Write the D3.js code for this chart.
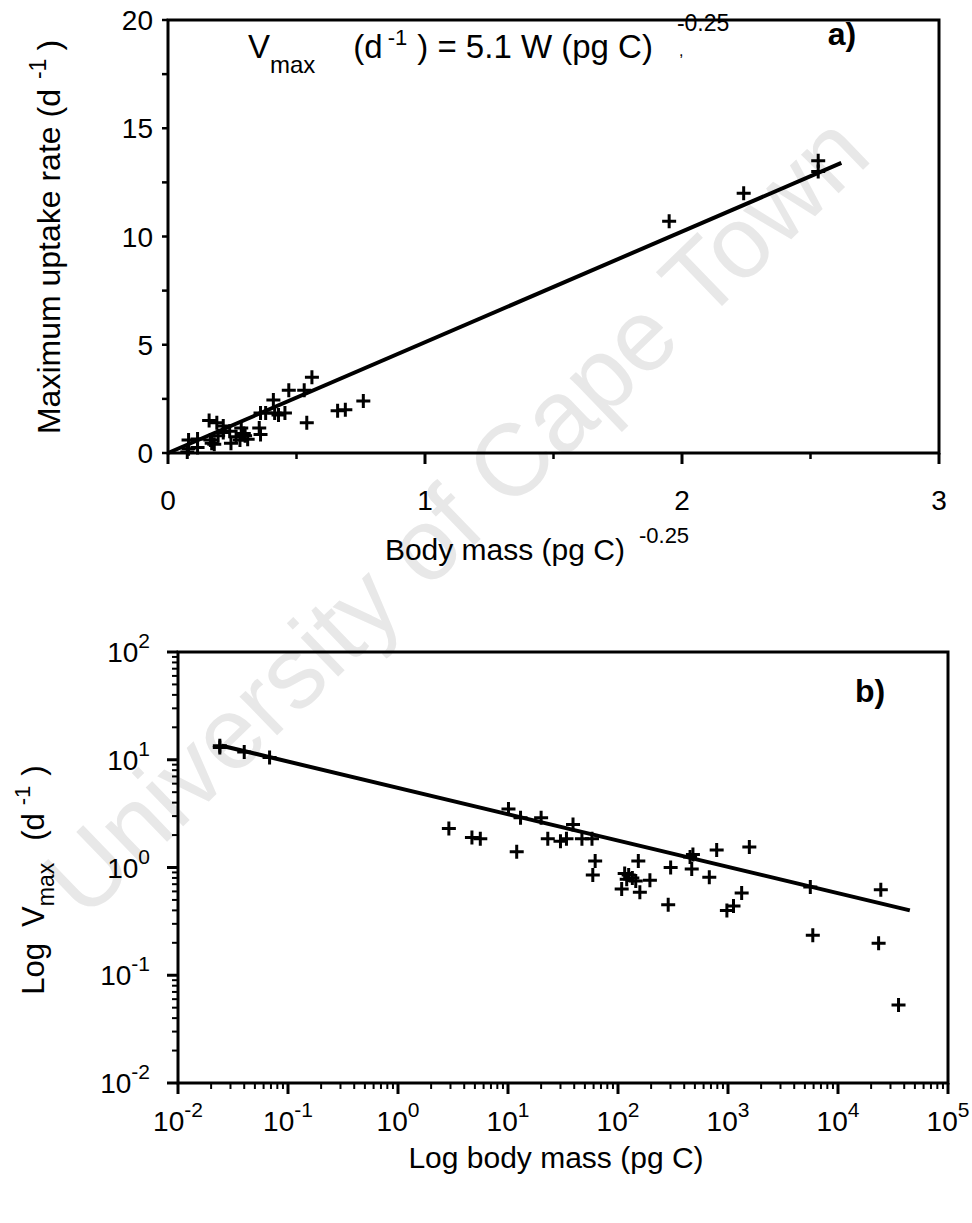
<!DOCTYPE html>
<html><head><meta charset="utf-8">
<script src="https://cdn.jsdelivr.net/npm/d3@7"></script>
<style>
body{margin:0;background:#fff}
text{font-family:"Liberation Sans",Arial,Helvetica,sans-serif;fill:#000}
</style>
</head><body>
<svg id="c" width="972" height="1223"></svg>
<script>
// ---------- Panel a) : Vmax vs W^-0.25 ----------
const aX = [0.56,0.53,0.47,0.76,0.69,0.66,0.54,0.41,0.455,0.43,0.415,0.38,0.36,0.355,0.36,0.285,0.29,0.30,0.295,0.31,0.28,0.265,0.245,0.24,0.215,0.215,0.195,0.19,0.16,0.165,0.17,0.18,0.115,0.115,0.08,0.08,0.075,1.95,2.24,2.53,2.53];
const aY = [3.5,2.9,2.9,2.4,2.0,1.95,1.4,2.45,1.85,1.75,1.85,1.85,1.85,1.15,0.85,1.15,0.85,0.8,0.9,0.63,0.6,0.75,0.45,1.0,1.25,0.95,0.8,1.4,1.5,0.6,0.45,0.4,0.65,0.25,0.6,0.2,0.05,10.7,12.0,13.5,13.0];
const aLineX = [0, 2.62];
const aLineY = [0, 13.4];
const aXTicks = [0,1,2,3];
const aXMinor = [0.5,1.5,2.5];
const aYTicks = [0,5,10,15,20];
const aYMinor = [2.5,7.5,12.5,17.5];

// ---------- Panel b) : log Vmax vs log W ----------
const bX = [0.024,0.024,0.04,0.068,2.9,4.7,5.6,10.1,13,12,20,23,30,34,39,47,58,62,59,153,115,125,135,120,145,108,158,195,286,301,452,480,468,676,789,1563,1331,1122,977,5600,5900,24500,23400,35500];
const bY = [13.5,13.0,11.8,10.5,2.3,1.9,1.85,3.5,2.9,1.4,2.9,1.85,1.75,1.85,2.5,1.85,1.85,1.15,0.85,1.15,0.88,0.85,0.8,0.78,0.75,0.63,0.59,0.76,0.45,1.0,1.25,1.32,0.97,0.81,1.45,1.55,0.58,0.44,0.40,0.66,0.235,0.62,0.198,0.053];
const bLineX = [0.025, 45000];
const bLineY = [13.5, 0.40];
const bXExp = [-2,-1,0,1,2,3,4,5];
const bYExp = [-2,-1,0,1,2];

const svg = d3.select('#c');
const plus = 'M-7,0H7M0,-7V7';

// watermark
svg.append('text')
  .attr('transform','translate(455,515) rotate(-44)')
  .attr('text-anchor','middle').attr('dominant-baseline','central')
  .style('font-size','102px').style('fill','#e8e8e8')
  .text('University of Cape Town');

// ===== Panel a =====
const xA = d3.scaleLinear().domain([0,3]).range([168,939]);
const yA = d3.scaleLinear().domain([0,20]).range([453,20]);
const gA = svg.append('g');

gA.append('rect').attr('x',xA(0)).attr('y',yA(20))
  .attr('width',xA(3)-xA(0)).attr('height',yA(0)-yA(20))
  .attr('fill','none').attr('stroke','#000').attr('stroke-width',3);

gA.selectAll('.xmaj').data(aXTicks).join('line')
  .attr('x1',d=>xA(d)).attr('x2',d=>xA(d)).attr('y1',yA(0)).attr('y2',yA(0)+11)
  .attr('stroke','#000').attr('stroke-width',3);
gA.selectAll('.xmin').data(aXMinor).join('line')
  .attr('x1',d=>xA(d)).attr('x2',d=>xA(d)).attr('y1',yA(0)).attr('y2',yA(0)+6)
  .attr('stroke','#000').attr('stroke-width',2.5);
gA.selectAll('.ymaj').data(aYTicks.concat(aYMinor)).join('line')
  .attr('x1',xA(0)-6).attr('x2',xA(0)).attr('y1',d=>yA(d)).attr('y2',d=>yA(d))
  .attr('stroke','#000').attr('stroke-width',2.5);

gA.selectAll('.xl').data(aXTicks).join('text')
  .attr('x',d=>xA(d)).attr('y',yA(0)+57).attr('text-anchor','middle')
  .style('font-size','28px').text(d=>d);
gA.selectAll('.yl').data(aYTicks).join('text')
  .attr('x',xA(0)-15).attr('y',d=>yA(d)+10).attr('text-anchor','end')
  .style('font-size','28px').text(d=>d);

gA.append('path')
  .attr('d', d3.line().x(d=>xA(d[0])).y(d=>yA(d[1]))(d3.zip(aLineX,aLineY)))
  .attr('stroke','#000').attr('stroke-width',4).attr('fill','none');

gA.selectAll('.pt').data(d3.zip(aX,aY)).join('path')
  .attr('transform',d=>`translate(${xA(d[0])},${yA(d[1])})`)
  .attr('d',plus).attr('stroke','#000').attr('stroke-width',3).attr('fill','none');

// equation
const eq = gA.append('text').attr('x',248).attr('y',58).style('font-size','33px');
eq.append('tspan').text('V');
eq.append('tspan').attr('dy',15).style('font-size','24px').text('max');
eq.append('tspan').attr('dx',38).attr('dy',-15).text('(d');
eq.append('tspan').attr('dx',5).attr('dy',-13).style('font-size','22px').text('-1');
eq.append('tspan').attr('dx',10).attr('dy',13).text(') = 5.1 W (pg C)');
eq.append('tspan').attr('dx',24).attr('dy',-27).style('font-size','23px').text('-0.25');
gA.append('text').attr('x',679).attr('y',56).style('font-size','16px').text(',');

gA.append('text').attr('x',842).attr('y',45).attr('text-anchor','middle')
  .style('font-size','32px').style('font-weight','bold').text('a)');

// axis titles a
const ta = gA.append('text').attr('x',537).attr('y',560).attr('text-anchor','middle').style('font-size','30px');
ta.append('tspan').text('Body mass  (pg C)');
ta.append('tspan').attr('dx',14).attr('dy',-17).style('font-size','22px').text('-0.25');

const tya = gA.append('text').attr('transform','translate(60,237) rotate(-90)')
  .attr('text-anchor','middle').style('font-size','32px');
tya.append('tspan').text('Maximum uptake rate (d');
tya.append('tspan').attr('dx',10).attr('dy',-14).style('font-size','23px').text('-1');
tya.append('tspan').attr('dx',8).attr('dy',14).text(')');

// ===== Panel b =====
const xB = d3.scaleLog().domain([1e-2,1e5]).range([178,948]);
const yB = d3.scaleLog().domain([1e-2,1e2]).range([1083,652]);
const gB = svg.append('g');

gB.append('rect').attr('x',xB(1e-2)).attr('y',yB(1e2))
  .attr('width',xB(1e5)-xB(1e-2)).attr('height',yB(1e-2)-yB(1e2))
  .attr('fill','none').attr('stroke','#000').attr('stroke-width',3);

const xTicksAll = xB.ticks();
const yTicksAll = yB.ticks();
const isMajor = v => Math.abs(Math.log10(v) - Math.round(Math.log10(v))) < 1e-9;

gB.selectAll('.bxt').data(xTicksAll).join('line')
  .attr('x1',d=>xB(d)).attr('x2',d=>xB(d)).attr('y1',yB(1e-2))
  .attr('y2',d=>yB(1e-2)+(isMajor(d)?11:6))
  .attr('stroke','#000').attr('stroke-width',d=>isMajor(d)?3:2);
gB.selectAll('.byt').data(yTicksAll).join('line')
  .attr('x1',d=>xB(1e-2)-(isMajor(d)?11:6)).attr('x2',xB(1e-2))
  .attr('y1',d=>yB(d)).attr('y2',d=>yB(d))
  .attr('stroke','#000').attr('stroke-width',d=>isMajor(d)?3:2);

const xl = gB.selectAll('.bxl').data(bXExp).join('text')
  .attr('x',d=>xB(Math.pow(10,d))).attr('y',yB(1e-2)+48).attr('text-anchor','middle')
  .style('font-size','28px');
xl.append('tspan').text('10');
xl.append('tspan').attr('dy',-14).style('font-size','21px').text(d=>d);

const yl = gB.selectAll('.byl').data(bYExp).join('text')
  .attr('x',xB(1e-2)-28).attr('y',d=>yB(Math.pow(10,d))+10).attr('text-anchor','end')
  .style('font-size','28px');
yl.append('tspan').text('10');
yl.append('tspan').attr('dy',-14).style('font-size','21px').text(d=>d);

gB.append('path')
  .attr('d', d3.line().x(d=>xB(d[0])).y(d=>yB(d[1]))(d3.zip(bLineX,bLineY)))
  .attr('stroke','#000').attr('stroke-width',4).attr('fill','none');

gB.selectAll('.pt').data(d3.zip(bX,bY)).join('path')
  .attr('transform',d=>`translate(${xB(d[0])},${yB(d[1])})`)
  .attr('d',plus).attr('stroke','#000').attr('stroke-width',3).attr('fill','none');

gB.append('text').attr('x',870).attr('y',702).attr('text-anchor','middle')
  .style('font-size','32px').style('font-weight','bold').text('b)');

gB.append('text').attr('x',556).attr('y',1168).attr('text-anchor','middle')
  .style('font-size','30px').text('Log body mass (pg C)');

const tyb = gB.append('text').attr('transform','translate(44,880) rotate(-90)')
  .attr('text-anchor','middle').style('font-size','31px');
tyb.append('tspan').text('Log');
tyb.append('tspan').attr('dx',16).text('V');
tyb.append('tspan').attr('dy',10).style('font-size','23px').text('max');
tyb.append('tspan').attr('dx',22).attr('dy',-10).text('(d');
tyb.append('tspan').attr('dx',8).attr('dy',-14).style('font-size','22px').text('-1');
tyb.append('tspan').attr('dx',10).attr('dy',14).text(')');
</script>
</body></html>
